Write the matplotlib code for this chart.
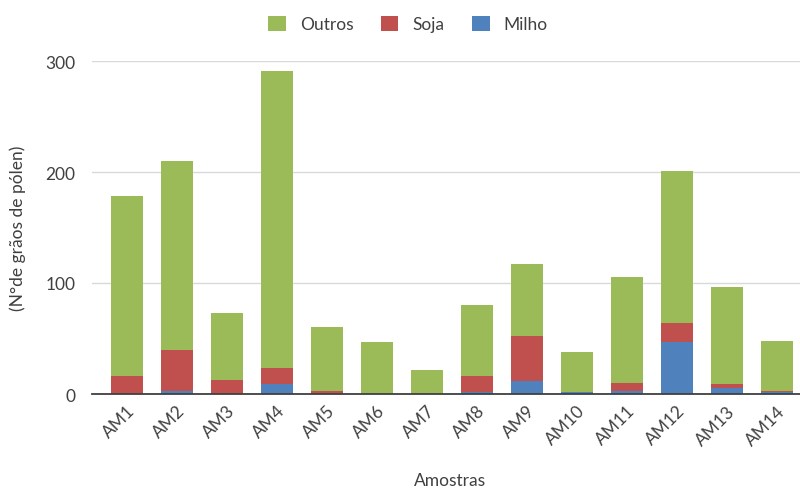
import matplotlib
matplotlib.use("Agg")
import matplotlib.pyplot as plt
import numpy as np

amostras = ["AM1", "AM2", "AM3", "AM4", "AM5", "AM6", "AM7",
            "AM8", "AM9", "AM10", "AM11", "AM12", "AM13", "AM14"]
milho = [0, 3, 0, 9, 0, 0, 0, 2, 12, 2, 3, 47, 5, 2]
soja = [16, 37, 13, 14, 3, 0, 0, 14, 40, 0, 7, 17, 4, 1]
outros = [162, 170, 60, 268, 57, 47, 22, 64, 65, 36, 95, 137, 87, 45]
yticks = [0, 100, 200, 300]

plt.rcParams["font.family"] = ["Lato", "DejaVu Sans"]
fs = 12.5
txt = "#404040"

fig = plt.figure(figsize=(8, 4.89), dpi=100)
ax = fig.add_axes([92 / 800, 1 - 395 / 489, 1 - 92 / 800, (395 - 62) / 489])

x = np.arange(len(amostras))
w = 0.654
milho_a = np.array(milho)
soja_a = np.array(soja)
outros_a = np.array(outros)

b_m = ax.bar(x, milho_a, w, color="#4F81BD", label="Milho", zorder=3)
b_s = ax.bar(x, soja_a, w, bottom=milho_a, color="#C0504D", label="Soja", zorder=3)
b_o = ax.bar(x, outros_a, w, bottom=milho_a + soja_a, color="#9BBB59",
             label="Outros", zorder=3)

ax.set_xlim(-0.7, len(amostras) - 1 + 0.46)
ax.set_ylim(0, 300)
ax.set_yticks(yticks)
ax.set_xticks(x)
ax.set_xticklabels(amostras, rotation=45, ha="right", rotation_mode="anchor")
ax.grid(axis="y", color="#D9D9D9", linewidth=1, zorder=0)
for s in ["top", "right", "left"]:
    ax.spines[s].set_visible(False)
ax.spines["bottom"].set_color("#404040")
ax.spines["bottom"].set_linewidth(1.3)
ax.spines["bottom"].set_zorder(4)
ax.tick_params(axis="both", length=0, labelsize=fs, labelcolor=txt)
ax.tick_params(axis="y", pad=12)
ax.tick_params(axis="x", pad=6)

fig.text(450 / 800, 1 - 481 / 489, "Amostras", ha="center", va="center",
         fontsize=fs, color=txt)
fig.text(18 / 800, 1 - 228 / 489, "(N°de grãos de pólen)", ha="center",
         va="center", rotation=90, fontsize=fs, color=txt)

fig.legend(handles=[b_o, b_s, b_m], labels=["Outros", "Soja", "Milho"],
           loc="center", bbox_to_anchor=(408 / 800, 1 - 25 / 489), ncol=3,
           frameon=False, fontsize=fs, handlelength=1.0, handleheight=1.0,
           columnspacing=1.6, handletextpad=0.8, labelcolor=txt)

fig.savefig("out.png", dpi=100)
